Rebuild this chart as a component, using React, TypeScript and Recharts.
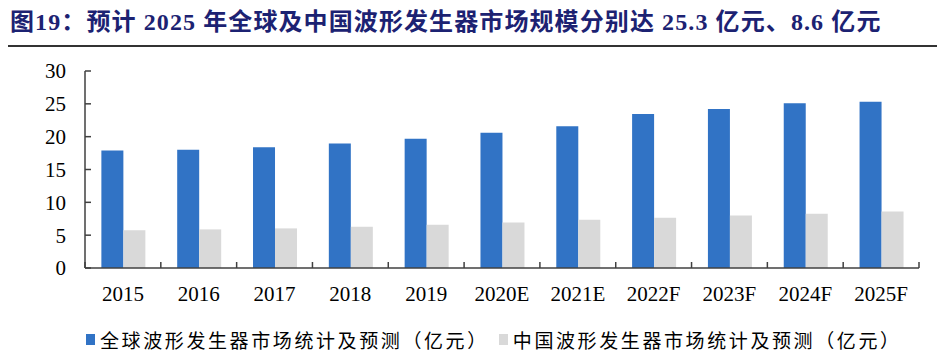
import { Bar, BarChart, XAxis, YAxis } from 'recharts'

// 연도 / 전망 구분
const categories = ['2015', '2016', '2017', '2018', '2019', '2020E', '2021E', '2022F', '2023F', '2024F', '2025F']
// 全球波形发生器市场 (亿元)
const globalValues = [17.9, 18.0, 18.4, 18.95, 19.7, 20.6, 21.6, 23.45, 24.2, 25.1, 25.3]
// 中国波形发生器市场 (亿元)
const chinaValues = [5.73, 5.88, 6.03, 6.28, 6.58, 6.94, 7.34, 7.65, 8.0, 8.25, 8.6]
const yTicks = [0, 5, 10, 15, 20, 25, 30]

const titleText = '图19：预计 2025 年全球及中国波形发生器市场规模分别达 25.3 亿元、8.6 亿元'
const globalName = '全球波形发生器市场统计及预测（亿元）'
const chinaName = '中国波形发生器市场统计及预测（亿元）'

const BLUE = '#3173c5'
const GRAY = '#d9d9d9'
const AXIS = '#404040'
const SERIF = '"Liberation Serif", "Noto Sans CJK SC", serif'

const data = categories.map((name, i) => ({
  name,
  global: globalValues[i],
  china: chinaValues[i],
}))

// x축 눈금: 카테고리 경계에 짧은 선 + 가운데 라벨
function XTick(props: any) {
  const { x, y, payload, index } = props
  const half = payload.offset ?? 0
  const last = index === categories.length - 1
  return (
    <g>
      <line x1={x - half} x2={x - half} y1={y} y2={y - 6} stroke={AXIS} strokeWidth={1.5} />
      {last && <line x1={x + half} x2={x + half} y1={y} y2={y - 6} stroke={AXIS} strokeWidth={1.5} />}
      <text x={x} y={y + 33} textAnchor="middle" fontSize={21} fontFamily={SERIF} fill="#000">
        {payload.value}
      </text>
    </g>
  )
}

function LegendItem({ color, label }: { color: string; label: string }) {
  return (
    <div style={{ display: 'flex', alignItems: 'center' }}>
      <span style={{ width: 9, height: 11, background: color, marginRight: 5, display: 'inline-block' }} />
      <span>{label}</span>
    </div>
  )
}

export default function App() {
  return (
    <div style={{ position: 'absolute', left: 0, top: 0, width: 937, height: 357, background: '#fff', overflow: 'hidden' }}>
      <div
        style={{
          position: 'absolute',
          left: 10,
          top: 2,
          fontFamily: SERIF,
          fontWeight: 'bold',
          fontSize: 24,
          color: '#1c2272',
          whiteSpace: 'nowrap',
          letterSpacing: 1.1,
        }}
      >
        {titleText}
      </div>
      <div style={{ position: 'absolute', left: 8, right: 0, top: 45, height: 2, background: '#333' }} />

      <div style={{ position: 'absolute', left: 0, top: 0 }}>
        <BarChart
          width={937}
          height={357}
          data={data}
          margin={{ top: 71, right: 18, bottom: 49, left: 0 }}
          barCategoryGap="21.6%"
          barGap={0}
        >
          <YAxis
            width={85}
            domain={[0, 30]}
            ticks={yTicks}
            interval={0}
            axisLine={{ stroke: AXIS, strokeWidth: 1.5 }}
            tickLine={{ stroke: AXIS, strokeWidth: 1.5 }}
            tickSize={-6}
            tickMargin={25}
            tick={{ fontSize: 21, fontFamily: SERIF, fill: '#000' }}
          />
          <XAxis
            dataKey="name"
            height={40}
            interval={0}
            axisLine={{ stroke: AXIS, strokeWidth: 1.5 }}
            tickLine={false}
            tickSize={0}
            tickMargin={0}
            tick={<XTick />}
          />
          <Bar dataKey="global" name={globalName} fill={BLUE} isAnimationActive={false} />
          <Bar dataKey="china" name={chinaName} fill={GRAY} isAnimationActive={false} />
        </BarChart>
      </div>

      <div
        style={{
          position: 'absolute',
          left: 86,
          top: 326,
          display: 'flex',
          gap: 10,
          fontFamily: '"Noto Sans CJK SC", sans-serif',
          fontSize: 19,
          letterSpacing: 2.6,
          color: '#000',
          whiteSpace: 'nowrap',
        }}
      >
        <LegendItem color={BLUE} label={globalName} />
        <LegendItem color={GRAY} label={chinaName} />
      </div>
    </div>
  )
}
